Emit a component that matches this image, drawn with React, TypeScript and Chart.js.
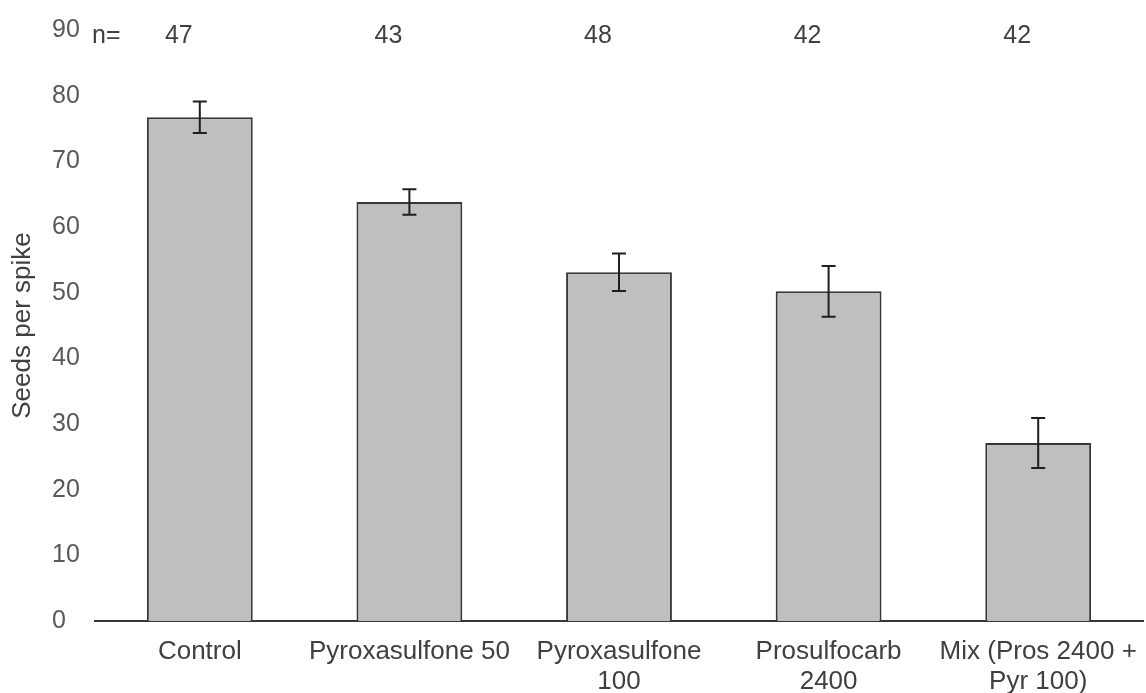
import React, { useEffect, useRef } from "react";
import { Chart, registerables } from "chart.js";

Chart.register(...registerables);

const categories: (string | string[])[] = [
  "Control",
  "Pyroxasulfone 50",
  ["Pyroxasulfone", "100"],
  ["Prosulfocarb", "2400"],
  ["Mix (Pros 2400 +", "Pyr 100)"],
];
const seedsPerSpike = [76.7, 63.8, 53.1, 50.2, 27.1];
const errors = [2.4, 1.95, 2.85, 3.85, 3.8];
const nCounts = [47, 43, 48, 42, 42];
const nLabelLevel = 89;
const yTitle = "Seeds per spike";

const FONT = '"Liberation Sans", Arial, sans-serif';

const overlayPlugin = {
  id: "overlay",
  afterDatasetsDraw(chart: any) {
    const { ctx, scales, chartArea } = chart;
    const x = scales.x;
    const y = scales.y;
    ctx.save();
    // error bars
    ctx.strokeStyle = "#1f1f1f";
    ctx.lineWidth = 2;
    seedsPerSpike.forEach((m, i) => {
      const cx = x.getPixelForValue(i);
      const t = y.getPixelForValue(m + errors[i]);
      const b = y.getPixelForValue(m - errors[i]);
      ctx.beginPath();
      ctx.moveTo(cx, t);
      ctx.lineTo(cx, b);
      ctx.moveTo(cx - 7, t);
      ctx.lineTo(cx + 7, t);
      ctx.moveTo(cx - 7, b);
      ctx.lineTo(cx + 7, b);
      ctx.stroke();
    });
    // n labels
    ctx.font = `25px ${FONT}`;
    ctx.fillStyle = "#404040";
    ctx.textBaseline = "middle";
    ctx.textAlign = "center";
    const ny = y.getPixelForValue(nLabelLevel);
    nCounts.forEach((n, i) => {
      ctx.fillText(String(n), x.getPixelForValue(i) - 21, ny);
    });
    ctx.textAlign = "left";
    ctx.fillText("n=", chartArea.left - 3, ny);
    // y title
    ctx.font = `26px ${FONT}`;
    ctx.translate(23, (chartArea.top + chartArea.bottom) / 2);
    ctx.rotate(-Math.PI / 2);
    ctx.textAlign = "center";
    ctx.fillStyle = "#404040";
    ctx.fillText(yTitle, 0, 0);
    ctx.restore();
  },
};

export default function App() {
  const ref = useRef<HTMLCanvasElement | null>(null);
  useEffect(() => {
    if (!ref.current) return;
    const chart = new Chart(ref.current, {
      type: "bar",
      data: {
        labels: categories,
        datasets: [
          {
            data: seedsPerSpike,
            backgroundColor: "#bfbfbf",
            borderColor: "#383838",
            borderWidth: 2,
            categoryPercentage: 1,
            barPercentage: 0.505,
          },
        ],
      },
      options: {
        animation: false,
        responsive: false,
        maintainAspectRatio: false,
        layout: { padding: { left: 52, right: 3, top: 30, bottom: 0 } },
        plugins: {
          legend: { display: false },
          tooltip: { enabled: false },
          title: { display: false },
        },
        scales: {
          x: {
            grid: { display: false, drawTicks: true, tickLength: 16 },
            border: { display: true, color: "#383838", width: 2 },
            ticks: {
              color: "#404040",
              font: { family: FONT, size: 26, lineHeight: 1.154 },
              maxRotation: 0,
              minRotation: 0,
              autoSkip: false,
              padding: 0,
            },
            afterFit(scale: any) {
              scale.height = 72;
            },
          },
          y: {
            min: 0,
            max: 90,
            grid: { display: false, drawTicks: false },
            border: { display: false },
            ticks: {
              stepSize: 10,
              color: "#595959",
              crossAlign: "far",
              font: { family: FONT, size: 25 },
              padding: 0,
            },
            afterFit(scale: any) {
              scale.width = 43;
            },
          },
        },
      },
      plugins: [overlayPlugin],
    });
    return () => chart.destroy();
  }, []);
  return (
    <div style={{ position: "fixed", left: 0, top: 0, width: 1146, height: 693, background: "#fff" }}>
      <canvas ref={ref} width={1146} height={693} style={{ width: 1146, height: 693 }} />
    </div>
  );
}
